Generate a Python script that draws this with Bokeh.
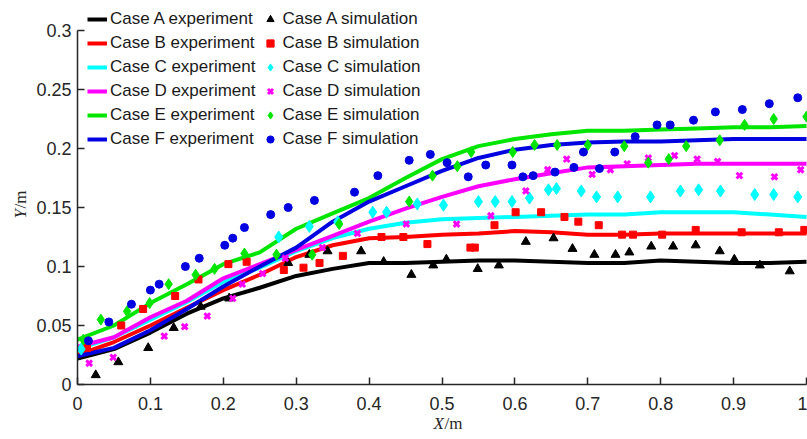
import math
from bokeh.plotting import figure
from bokeh.models import Legend, LegendItem, Label, Range1d, FixedTicker
from bokeh.embed import file_html
from bokeh.resources import INLINE

# ---- experiment profiles (measured) ----
exp_x = [0.0, 0.05, 0.1, 0.15, 0.2, 0.25, 0.3, 0.35, 0.4, 0.45, 0.5,
         0.55, 0.6, 0.65, 0.7, 0.75, 0.8, 0.85, 0.9, 0.95, 1.0]
exp_a = [0.022, 0.030, 0.044, 0.060, 0.073, 0.082, 0.092, 0.098, 0.103, 0.103, 0.104,
         0.105, 0.105, 0.104, 0.103, 0.103, 0.105, 0.104, 0.103, 0.103, 0.104]
exp_b = [0.025, 0.036, 0.050, 0.065, 0.080, 0.093, 0.108, 0.118, 0.124, 0.125, 0.127,
         0.128, 0.130, 0.129, 0.127, 0.127, 0.128, 0.128, 0.128, 0.128, 0.128]
exp_c = [0.030, 0.040, 0.055, 0.070, 0.087, 0.099, 0.113, 0.124, 0.132, 0.137, 0.140,
         0.141, 0.142, 0.143, 0.144, 0.144, 0.146, 0.146, 0.146, 0.144, 0.142]
exp_d = [0.032, 0.040, 0.057, 0.071, 0.090, 0.102, 0.114, 0.126, 0.138, 0.149, 0.159,
         0.168, 0.174, 0.179, 0.184, 0.185, 0.186, 0.187, 0.187, 0.187, 0.187]
exp_e = [0.038, 0.050, 0.069, 0.085, 0.102, 0.112, 0.132, 0.145, 0.158, 0.175, 0.191,
         0.202, 0.208, 0.212, 0.215, 0.215, 0.216, 0.217, 0.218, 0.218, 0.219]
exp_f = [0.024, 0.031, 0.046, 0.064, 0.083, 0.100, 0.116, 0.138, 0.155, 0.168, 0.181,
         0.192, 0.199, 0.203, 0.205, 0.206, 0.206, 0.207, 0.208, 0.208, 0.208]

# ---- simulation results ----
sim_a_x = [0.025, 0.056, 0.097, 0.132, 0.169, 0.208, 0.289, 0.318, 0.343, 0.389, 0.420,
           0.458, 0.488, 0.506, 0.549, 0.578, 0.615, 0.653, 0.679, 0.709, 0.738, 0.757,
           0.787, 0.817, 0.848, 0.881, 0.901, 0.936, 0.977]
sim_a_y = [0.008, 0.019, 0.031, 0.048, 0.066, 0.073, 0.103, 0.110, 0.113, 0.113, 0.104,
           0.093, 0.101, 0.106, 0.098, 0.101, 0.121, 0.124, 0.115, 0.110, 0.110, 0.112,
           0.117, 0.117, 0.118, 0.113, 0.106, 0.101, 0.096]

sim_b_x = [0.013, 0.060, 0.090, 0.134, 0.166, 0.207, 0.232, 0.283, 0.310, 0.332, 0.364,
           0.417, 0.447, 0.480, 0.539, 0.545, 0.572, 0.601, 0.636, 0.668, 0.687, 0.715,
           0.747, 0.762, 0.802, 0.848, 0.911, 0.962, 0.997]
sim_b_y = [0.031, 0.050, 0.064, 0.075, 0.089, 0.102, 0.104, 0.097, 0.099, 0.103, 0.109,
           0.125, 0.125, 0.119, 0.116, 0.116, 0.135, 0.146, 0.146, 0.142, 0.138, 0.135,
           0.127, 0.127, 0.127, 0.131, 0.129, 0.129, 0.131]

sim_c_x = [0.005, 0.276, 0.318, 0.357, 0.405, 0.424, 0.466, 0.502, 0.550, 0.573, 0.596,
           0.620, 0.646, 0.657, 0.691, 0.712, 0.741, 0.786, 0.827, 0.852, 0.882, 0.929,
           0.955, 0.988]
sim_c_y = [0.030, 0.125, 0.134, 0.138, 0.146, 0.146, 0.153, 0.152, 0.155, 0.155, 0.155,
           0.158, 0.165, 0.166, 0.164, 0.159, 0.159, 0.159, 0.164, 0.165, 0.164, 0.161,
           0.161, 0.159]

sim_d_x = [0.016, 0.049, 0.119, 0.147, 0.178, 0.213, 0.226, 0.254, 0.285, 0.336, 0.384,
           0.451, 0.520, 0.567, 0.615, 0.645, 0.671, 0.706, 0.731, 0.754, 0.783, 0.819,
           0.850, 0.878, 0.908, 0.956, 0.992]
sim_d_y = [0.018, 0.023, 0.041, 0.049, 0.058, 0.073, 0.085, 0.094, 0.107, 0.116, 0.128,
           0.136, 0.136, 0.143, 0.164, 0.182, 0.191, 0.178, 0.182, 0.187, 0.192, 0.194,
           0.191, 0.189, 0.177, 0.176, 0.182]

sim_e_x = [0.008, 0.032, 0.068, 0.099, 0.125, 0.162, 0.188, 0.229, 0.273, 0.322, 0.359,
           0.455, 0.487, 0.521, 0.540, 0.597, 0.627, 0.658, 0.700, 0.750, 0.783, 0.811,
           0.835, 0.881, 0.915, 0.955, 1.0]
sim_e_y = [0.038, 0.055, 0.062, 0.069, 0.085, 0.093, 0.098, 0.111, 0.110, 0.110, 0.136,
           0.155, 0.177, 0.185, 0.197, 0.197, 0.203, 0.203, 0.203, 0.202, 0.188, 0.191,
           0.202, 0.207, 0.220, 0.225, 0.227]

sim_f_x = [0.015, 0.043, 0.074, 0.100, 0.112, 0.148, 0.167, 0.202, 0.213, 0.229, 0.265,
           0.289, 0.325, 0.380, 0.412, 0.455, 0.484, 0.507, 0.536, 0.560, 0.596, 0.611,
           0.625, 0.655, 0.681, 0.694, 0.716, 0.737, 0.765, 0.795, 0.813, 0.845, 0.875,
           0.912, 0.949, 0.988]
sim_f_y = [0.037, 0.053, 0.068, 0.080, 0.085, 0.100, 0.107, 0.118, 0.124, 0.133, 0.144,
           0.150, 0.156, 0.163, 0.177, 0.190, 0.195, 0.188, 0.176, 0.186, 0.186, 0.176,
           0.177, 0.180, 0.184, 0.197, 0.183, 0.197, 0.210, 0.220, 0.220, 0.224, 0.231,
           0.233, 0.238, 0.243]

cases = ["A", "B", "C", "D", "E", "F"]
colors = ["#000000", "#ff0000", "#00ffff", "#ff00ff", "#00e600", "#0000e0"]
exp_series = [exp_a, exp_b, exp_c, exp_d, exp_e, exp_f]
sim_series = [(sim_a_x, sim_a_y), (sim_b_x, sim_b_y), (sim_c_x, sim_c_y),
              (sim_d_x, sim_d_y), (sim_e_x, sim_e_y), (sim_f_x, sim_f_y)]
markers = ["triangle", "square", "diamond", "x", "diamond", "circle"]
marker_sizes = [9, 7, 12, 8, 11, 8]

x_ticks = [0, 0.1, 0.2, 0.3, 0.4, 0.5, 0.6, 0.7, 0.8, 0.9, 1.0]
y_ticks = [0, 0.05, 0.1, 0.15, 0.2, 0.25, 0.3]
x_tick_labels = {0: "0", 0.1: "0.1", 0.2: "0.2", 0.3: "0.3", 0.4: "0.4", 0.5: "0.5",
                 0.6: "0.6", 0.7: "0.7", 0.8: "0.8", 0.9: "0.9", 1.0: "1"}
y_tick_labels = {0: "0", 0.05: "0.05", 0.1: "0.1", 0.15: "0.15", 0.2: "0.2",
                 0.25: "0.25", 0.3: "0.3"}

FONT = "Liberation Sans"
SERIF = "Liberation Serif"
AX = "#262626"

W, H = 807, 439
# pixel geometry of the data area inside the page
X0_PX, X_SCALE = 77, 729      # x = 0 at 77 px, 729 px per unit
Y0_PX, Y_SCALE = 384, 1180    # y = 0 at 384 px from the top, 1180 px per unit

# The frame spans the whole page; the axes are pinned at x = 0 / y = 0 and
# limited to the data extent, so labels and legend may sit anywhere on it.
x_range = Range1d(-X0_PX / X_SCALE, (W - X0_PX) / X_SCALE)
y_range = Range1d(-(H - Y0_PX) / Y_SCALE, Y0_PX / Y_SCALE)

p = figure(width=W, height=H, output_backend="svg", toolbar_location=None,
           x_range=x_range, y_range=y_range,
           min_border_left=0, min_border_right=0, min_border_top=0,
           min_border_bottom=0)
p.outline_line_color = None
p.grid.visible = False
p.background_fill_color = "white"
p.border_fill_color = "white"

for ax in (p.xaxis[0], p.yaxis[0]):
    ax.fixed_location = 0
    ax.axis_line_color = AX
    ax.axis_line_width = 1.5
    ax.major_tick_line_color = AX
    ax.major_tick_line_width = 1.5
    ax.major_tick_in = 7
    ax.major_tick_out = 0
    ax.minor_tick_line_color = None
    ax.major_label_text_font = FONT
    ax.major_label_text_font_size = "18px"
    ax.major_label_text_color = AX

p.xaxis.ticker = FixedTicker(ticks=x_ticks)
p.yaxis.ticker = FixedTicker(ticks=y_ticks)
p.xaxis.major_label_overrides = x_tick_labels
p.yaxis.major_label_overrides = y_tick_labels
p.xaxis.major_label_standoff = 12
p.yaxis.major_label_standoff = 6
p.xaxis.bounds = (0, 1)
p.yaxis.bounds = (0, 0.3)

exp_items = []
sim_items = []
for name, col, ys in zip(cases, colors, exp_series):
    r = p.line(exp_x, ys, line_color=col, line_width=4)
    exp_items.append(LegendItem(label=f"Case {name} experiment", renderers=[r]))

for name, col, (sx, sy), mk, ms in zip(cases, colors, sim_series, markers, marker_sizes):
    if mk == "x":
        r = p.scatter(sx, sy, marker=mk, size=ms, line_color=col, line_width=3)
    else:
        r = p.scatter(sx, sy, marker=mk, size=ms, fill_color=col, line_color=col)
    sim_items.append(LegendItem(label=f"Case {name} simulation", renderers=[r]))

legend = Legend(items=exp_items + sim_items, nrows=6,
                location=(87, 290), orientation="vertical",
                background_fill_alpha=0, border_line_color=None,
                label_text_font=FONT, label_text_font_size="17px",
                label_text_color="#1a1a1a",
                glyph_width=20, glyph_height=18, label_height=20,
                label_standoff=3, spacing=4, padding=0, margin=0)
p.add_layout(legend, "center")

# axis titles: italic variable followed by upright unit
TITLE_SIZE = "17px"
p.add_layout(Label(x=433, y=16, x_units="screen", y_units="screen", text="X",
                   text_font=SERIF, text_font_style="italic", text_font_size=TITLE_SIZE,
                   text_baseline="middle", text_align="left", text_color=AX))
p.add_layout(Label(x=444, y=16, x_units="screen", y_units="screen", text="/m",
                   text_font=SERIF, text_font_size=TITLE_SIZE,
                   text_baseline="middle", text_align="left", text_color=AX))
p.add_layout(Label(x=20, y=221, x_units="screen", y_units="screen", text="Y",
                   angle=math.pi / 2, text_font=SERIF, text_font_style="italic",
                   text_font_size=TITLE_SIZE, text_baseline="middle", text_align="left",
                   text_color=AX))
p.add_layout(Label(x=20, y=231, x_units="screen", y_units="screen", text="/m",
                   angle=math.pi / 2, text_font=SERIF, text_font_size=TITLE_SIZE,
                   text_baseline="middle", text_align="left", text_color=AX))

open("out.html", "w").write(file_html(p, INLINE))
